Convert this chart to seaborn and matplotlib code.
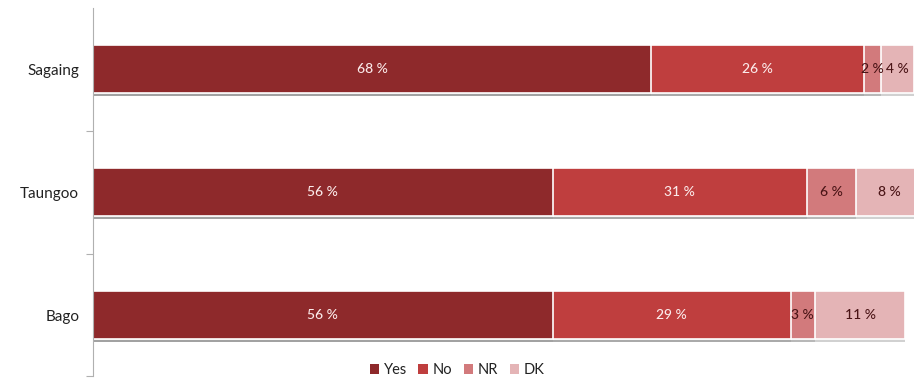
import matplotlib
matplotlib.use("Agg")
import matplotlib.pyplot as plt
import matplotlib.patheffects as pe
from matplotlib.patches import Patch
import numpy as np
import pandas as pd
import seaborn as sns

# Survey answers by region (percent)
regions = ["Sagaing", "Taungoo", "Bago"]
answers = ["Yes", "No", "NR", "DK"]
yes = [68, 56, 56]
no = [26, 31, 29]
nr = [2, 6, 3]
dk = [4, 8, 11]

colors = {"Yes": "#8e292b", "No": "#bf3e3e", "NR": "#d27a7c", "DK": "#e4b4b6"}
label_colors = {"Yes": "#fbeaea", "No": "#fbeaea", "NR": "#4a1416", "DK": "#4a1416"}

values = pd.DataFrame({"Yes": yes, "No": no, "NR": nr, "DK": dk}, index=regions)
cumulative = values.cumsum(axis=1)

sns.set_theme(style="white")
plt.rcParams["font.family"] = ["Lato", "DejaVu Sans"]

fig = plt.figure(figsize=(9.23, 3.78), dpi=100)
ax = fig.add_axes([0.1008, 0.004, 0.889, 0.976])

shadow = [pe.SimplePatchShadow(offset=(0, -2), shadow_rgbFace="#9a9a9a", alpha=0.45), pe.Normal()]

# Stacked bars: draw cumulative totals from the outermost segment inwards
for ans in reversed(answers):
    df = pd.DataFrame({"region": regions, "value": cumulative[ans].values})
    sns.barplot(data=df, x="value", y="region", orient="h", order=regions,
                color=colors[ans], width=0.39, edgecolor="white", linewidth=1.2,
                saturation=1, ax=ax)
for p in ax.patches:
    p.set_path_effects(shadow)

# Segment labels
for i, reg in enumerate(regions):
    for ans in answers:
        v = values.loc[reg, ans]
        center = cumulative.loc[reg, ans] - v / 2
        ax.text(center, i, f"{v} %", ha="center", va="center", fontsize=10,
                color=label_colors[ans], fontweight="medium")

ax.set_xlim(0, 100)
ax.set_ylim(2.5, -0.5)
ax.set_xlabel("")
ax.set_ylabel("")
ax.set_xticks([])
ax.tick_params(axis="y", which="major", length=0, labelsize=11, pad=10, colors="#222222")
ax.set_yticks([0.5, 1.5, 2.5], minor=True)
ax.tick_params(axis="y", which="minor", length=5, width=0.8, color="#b0b0b0", left=True)
for side in ["top", "right", "bottom"]:
    ax.spines[side].set_visible(False)
ax.spines["left"].set_color("#b0b0b0")
ax.spines["left"].set_linewidth(0.8)

handles = [Patch(facecolor=colors[a], edgecolor="none", label=a) for a in answers]
fig.legend(handles=handles, loc="center", bbox_to_anchor=(457 / 923, 1 - 370 / 378),
           ncol=4, frameon=False, fontsize=10.5, handlelength=0.65, handleheight=0.65,
           handletextpad=0.3, columnspacing=0.8, labelcolor="#222222")

fig.savefig("out.png", dpi=100)
